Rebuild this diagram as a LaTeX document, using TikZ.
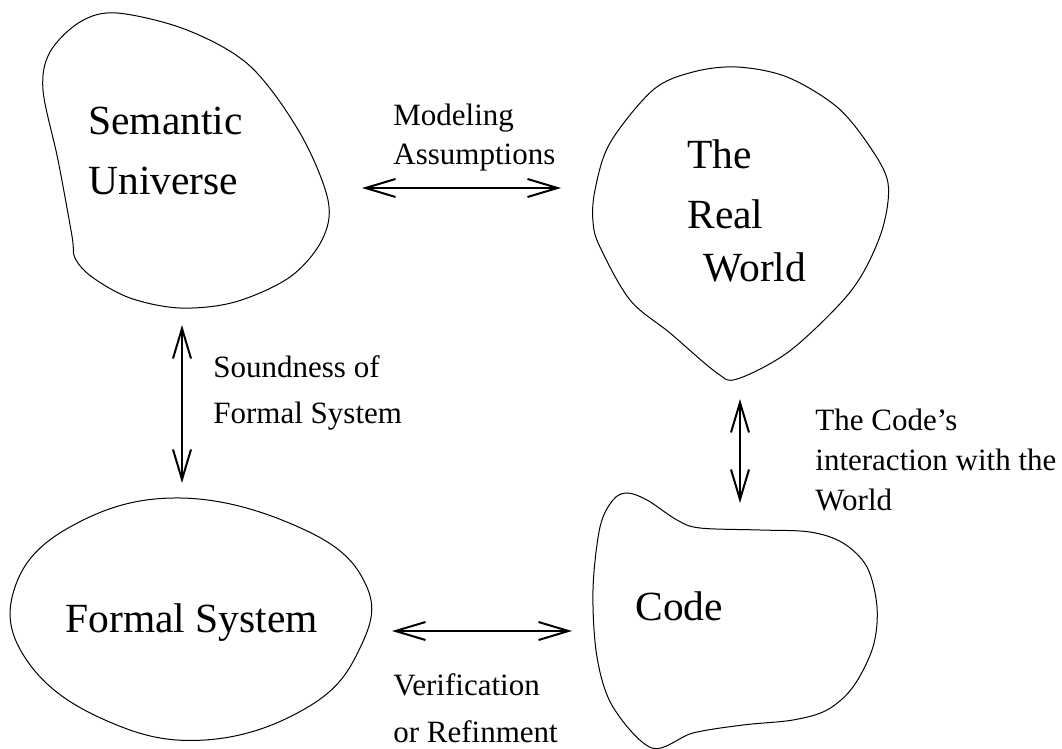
\documentclass[tikz,border=0pt]{standalone}
\usepackage{fontspec}
\setmainfont{Liberation Serif}
\usepackage{tikz}
\usetikzlibrary{arrows.meta}

\begin{document}
\begin{tikzpicture}[
    x=0.5pt, y=-0.5pt,
    blob/.style={line width=0.5pt},
    dbl/.style={{Straight Barb[length=15pt, width=9pt]}-{Straight Barb[length=15pt, width=9pt]},
                line width=1pt},
    big/.style={anchor=base west, align=left, inner sep=0pt,
                font=\rmfamily\fontsize{20.75pt}{30pt}\selectfont},
    lbl/.style={anchor=base west, align=left, inner sep=0pt,
                font=\rmfamily\fontsize{15.5pt}{20pt}\selectfont},
  ]
  \useasboundingbox (0,0) rectangle (1062,749);

  % ============ Blobs ============
  % Semantic Universe
  \draw[blob] plot[smooth cycle, tension=0.55] coordinates {
    (117,13) (187,30) (250,66) (300,133) (328,200) (322,240) (290,277)
    (235,302) (180,308) (130,298) (92,277) (75,258) (72,236) (58,160)
    (43,90) (50,52) (80,22)};
  % The Real World
  \draw[blob] plot[smooth cycle, tension=0.55] coordinates {
    (737,67) (787,77) (837,107) (870,147) (888,183) (883,227) (863,273)
    (837,307) (787,353) (737,379) (717,373) (670,333) (630,300)
    (600,247) (593,222) (595,190) (610,143) (653,90) (693,72)};
  % Formal System
  \draw[blob] plot[smooth cycle, tension=0.7] coordinates {
    (180,498) (70,527) (14,590) (28,662) (105,720) (205,740)
    (308,707) (360,648) (366,585) (305,530)};
  % Code
  \draw[blob] plot[smooth cycle, tension=0.55] coordinates {
    (627,493) (647,500) (677,520) (700,528) (760,530) (810,532)
    (843,543) (867,567) (877,607) (873,647) (853,687) (827,710)
    (793,720) (743,725) (693,733) (652,748) (613,707) (597,657)
    (593,590) (600,527) (613,500)};

  % ============ Blob texts (anchored at last baseline) ============
  \node[big] (su) at (88,195) {Semantic\\Universe};
  \node[big] (rw) at (687,282) {The\\Real\\[-3pt]\hspace*{8pt}World};
  \node[big] (fs) at (65,632) {Formal System};
  \node[big] (code) at (635,620) {Code};

  % ============ Arrow ends ============
  \coordinate (ma-w) at (362,188);
  \coordinate (ma-e) at (561,188);
  \coordinate (sf-n) at (182,325);
  \coordinate (sf-s) at (182,483);
  \coordinate (cw-n) at (740,399);
  \coordinate (cw-s) at (740,503);
  \coordinate (vr-w) at (392,631);
  \coordinate (vr-e) at (572,631);

  \draw[dbl] (ma-w) -- (ma-e);
  \draw[dbl] (sf-n) -- (sf-s);
  \draw[dbl] (cw-n) -- (cw-s);
  \draw[dbl] (vr-w) -- (vr-e);

  % ============ Labels ============
  \node[lbl] (ma) at (393,165) {Modeling\\Assumptions};
  \node[lbl] (sf) at (213,423) {Soundness of\\[3pt]Formal System};
  \node[lbl] (cw) at (815,510) {The Code's\\interaction with the\\World};
  \node[lbl] (vr) at (393,742) {Verification\\[3.5pt]or Refinment};

\end{tikzpicture}
\end{document}
